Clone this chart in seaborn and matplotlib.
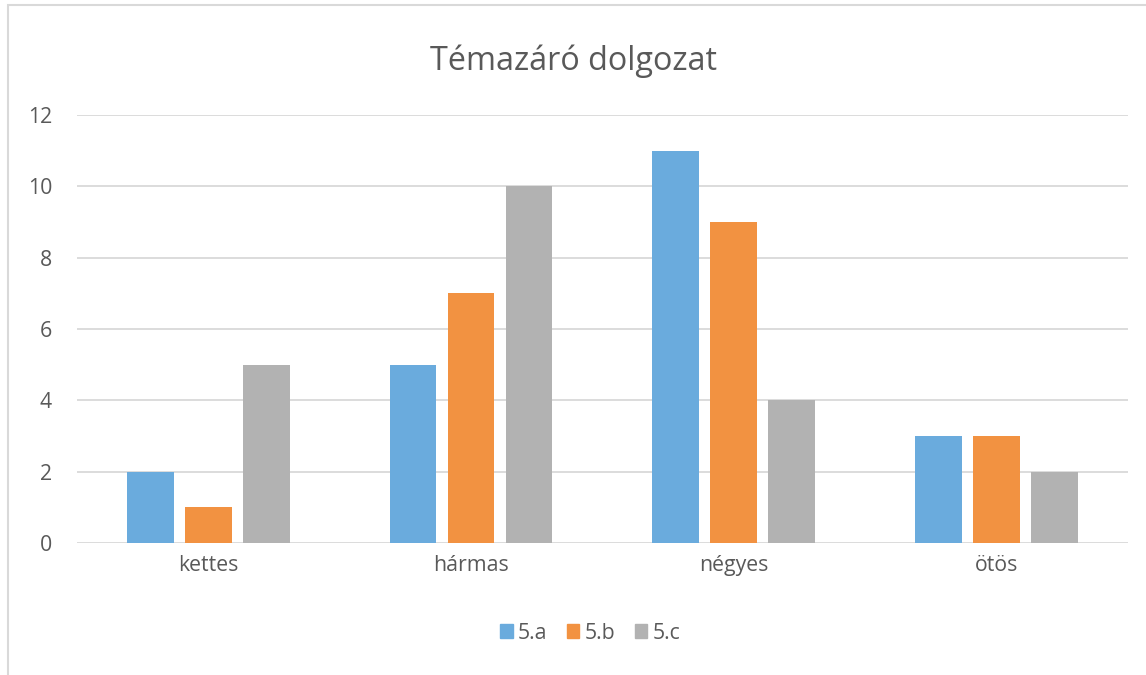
import pandas as pd
import seaborn as sns
import matplotlib.pyplot as plt
from matplotlib.patches import Rectangle

# Grades per class
categories = ["kettes", "hármas", "négyes", "ötös"]
class_a = [2, 5, 11, 3]
class_b = [1, 7, 9, 3]
class_c = [5, 10, 4, 2]
series = ["5.a", "5.b", "5.c"]
colors = ["#6AABDD", "#F29241", "#B2B2B2"]

df = pd.DataFrame({
    "Jegy": categories * 3,
    "Osztály": [s for s in series for _ in categories],
    "Darab": class_a + class_b + class_c,
})

sns.set_style("white")
plt.rcParams["font.family"] = ["Open Sans", "DejaVu Sans"]
text_color = "#595959"

fig = plt.figure(figsize=(11.46, 6.75), dpi=100)
ax = fig.add_axes([0.0672, 0.1956, 0.9168, 0.634])

sns.barplot(data=df, x="Jegy", y="Darab", hue="Osztály", palette=colors,
            width=0.663, gap=0.2, saturation=1, linewidth=0, ax=ax,
            legend=False)

ax.set_ylim(0, 12)
ax.set_xlim(-0.5, 3.5)
ax.set_yticks(range(0, 13, 2))
ax.yaxis.grid(True, color="#D9D9D9", linewidth=1.3)
ax.set_axisbelow(True)
for s in ax.spines.values():
    s.set_visible(False)
ax.tick_params(axis="both", length=0, labelsize=15.3, colors=text_color)
ax.tick_params(axis="y", pad=18)
ax.tick_params(axis="x", pad=9)
ax.set_xlabel("")
ax.set_ylabel("")

fig.text(0.5, 0.91, "Témazáró dolgozat", ha="center", va="center",
         fontsize=23.3, color=text_color)

# legend
handles = [Rectangle((0, 0), 1, 1, color=c) for c in colors]
fig.legend(handles, series, loc="center", bbox_to_anchor=(0.515, 0.062),
           ncol=3, frameon=False, fontsize=15.3, handlelength=0.6,
           handleheight=0.6, handletextpad=0.25, columnspacing=0.9,
           labelcolor=text_color)

# chart area border
fig.patches.append(Rectangle((8 / 1146, -0.1), 1.2, (675 - 5) / 675 + 0.1,
                             transform=fig.transFigure, fill=False,
                             edgecolor="#D9D9D9", linewidth=1.5))

fig.savefig("out.png", dpi=100)
